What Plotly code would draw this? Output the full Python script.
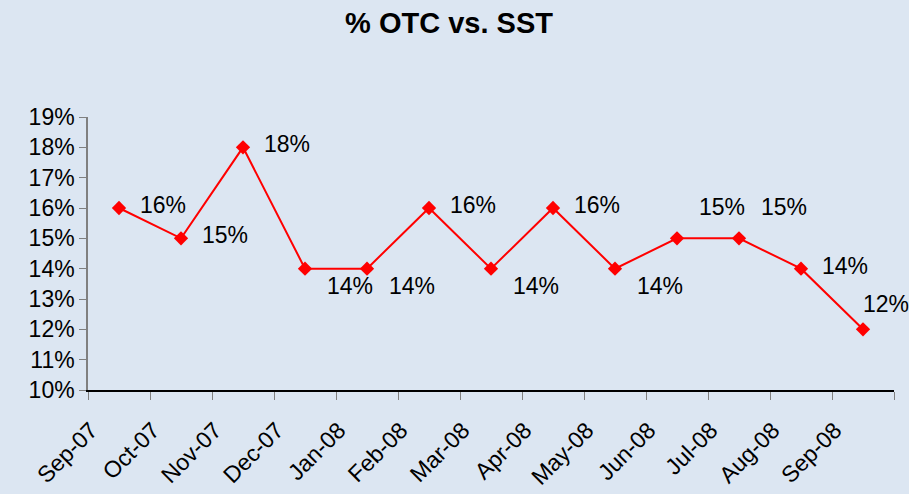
import plotly.graph_objects as go

months = ["Sep-07", "Oct-07", "Nov-07", "Dec-07", "Jan-08", "Feb-08", "Mar-08",
          "Apr-08", "May-08", "Jun-08", "Jul-08", "Aug-08", "Sep-08"]
otc_share = [0.16, 0.15, 0.18, 0.14, 0.14, 0.16, 0.14, 0.16, 0.14, 0.15, 0.15, 0.14, 0.12]
label_place = ["right", "right", "right", "below", "below", "right", "below",
               "right", "below", "above", "above", "right", "top"]

FONT = "Liberation Sans, Arial, sans-serif"
BG = "#DCE6F2"

xs = list(range(len(months)))

fig = go.Figure()
fig.add_trace(go.Scatter(
    x=xs, y=otc_share, mode="lines+markers",
    line=dict(color="#FF0000", width=2),
    marker=dict(symbol="diamond", size=11, color="#FF0000"),
    hoverinfo="skip", showlegend=False,
))

offsets = {"right": (19, 3), "below": (20, -17), "above": (20, 31), "top": (-2, 25)}
for x, v, p in zip(xs, otc_share, label_place):
    dx, dy = offsets[p]
    fig.add_annotation(x=x, y=v, text=f"{round(v*100)}%", showarrow=False,
                       xanchor="left", yanchor="middle", xshift=dx, yshift=dy,
                       font=dict(family=FONT, size=23, color="black"))

tickvals = [i - 0.5 for i in range(len(months) + 1)]
ticktext = months + [""]

fig.update_layout(
    width=909, height=494,
    paper_bgcolor=BG, plot_bgcolor=BG,
    margin=dict(l=88, r=15, t=117, b=104),
    title=dict(text="<b>% OTC vs. SST</b>", x=449/909, xanchor="center",
               y=1 - 22.5/494, yanchor="middle",
               font=dict(family=FONT, size=29, color="black")),
    xaxis=dict(range=[-0.5, len(months) - 0.5], tickvals=tickvals, ticktext=ticktext,
               tickangle=-45, ticks="outside", ticklen=8, tickcolor="#808080",
               ticklabelstandoff=8, ticklabelshift=3,
               showline=True, linecolor="black", linewidth=1.5,
               showgrid=False, zeroline=False, automargin=False,
               tickfont=dict(family=FONT, size=23, color="black")),
    yaxis=dict(range=[0.10, 0.19], dtick=0.01, tick0=0.10, tickformat=".0%",
               ticks="outside", ticklen=7, tickcolor="#808080",
               showline=True, linecolor="#808080", linewidth=1.5,
               showgrid=False, zeroline=False, automargin=False,
               tickfont=dict(family=FONT, size=23, color="black")),
)

fig.write_html("out.html", config={"displayModeBar": False},
               post_script="document.body.style.margin='0';document.body.style.padding='0';")
